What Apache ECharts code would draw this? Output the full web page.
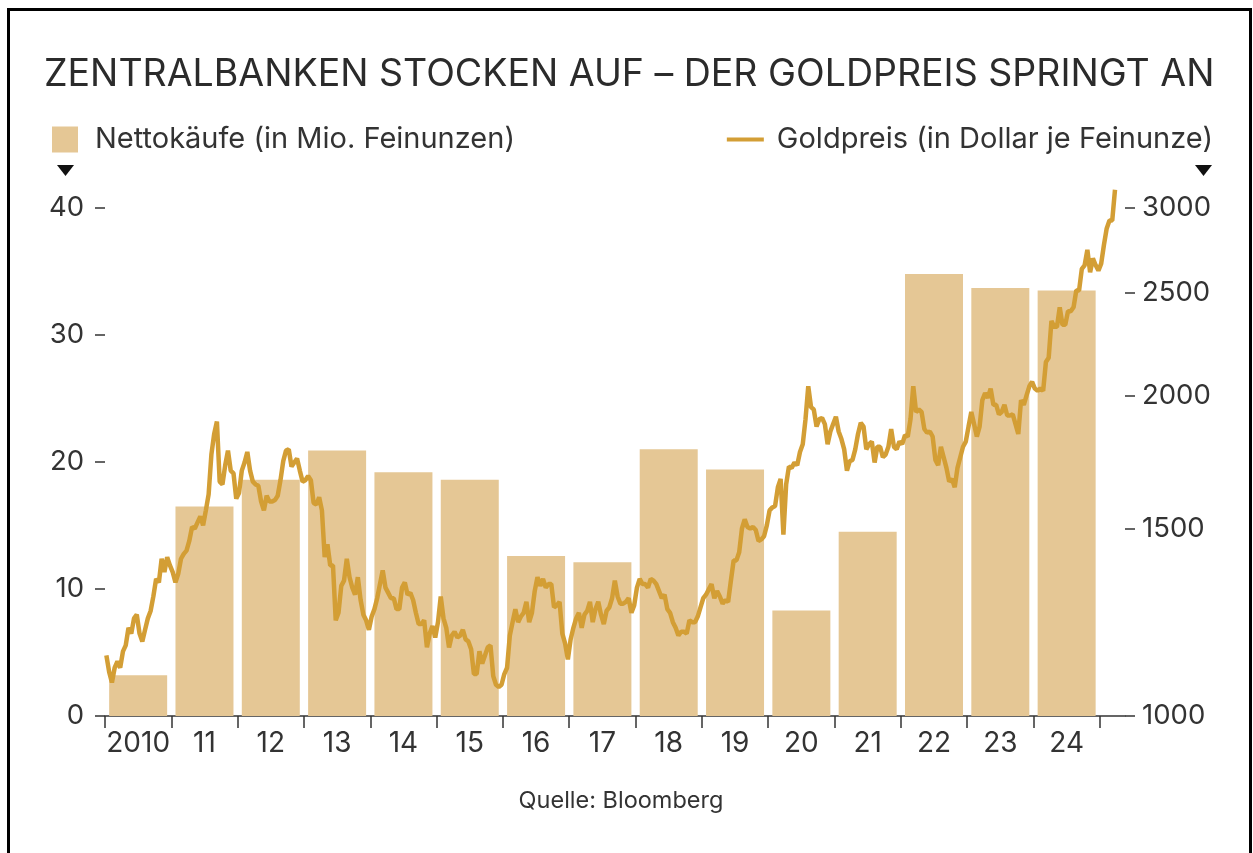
<!DOCTYPE html>
<html>
<head>
<meta charset="utf-8">
<script src="https://cdn.jsdelivr.net/npm/echarts@6/dist/echarts.min.js"></script>
<style>
html,body{margin:0;padding:0;background:#fff;}
#chart{width:1253px;height:853px;}
</style>
</head>
<body>
<div id="chart"></div>
<script>
// ---- data ----
const years = [2010,2011,2012,2013,2014,2015,2016,2017,2018,2019,2020,2021,2022,2023,2024];
const yearLabels = ['2010','11','12','13','14','15','16','17','18','19','20','21','22','23','24'];
const netPurchases = [3.2,16.5,18.6,20.9,19.2,18.6,12.6,12.1,21.0,19.4,8.3,14.5,34.8,33.7,33.5];
const leftTicks = [0,10,20,30,40];
const rightTicks = [1000,1500,2000,2500,3000];
// gold price, two readings per month (first half, second half)
const gold2010 = [1140,1100,1075,1110,1125,1110,1150,1165,1210,1195,1235,1245,1195,1175,1205,1235,1255,1295,1345,1335,1405,1365,1410,1385];
const gold2011 = [1365,1335,1360,1405,1420,1430,1460,1505,1500,1520,1540,1510,1560,1615,1760,1840,1890,1660,1650,1720,1775,1700,1690,1600];
const gold2012 = [1620,1700,1730,1770,1700,1660,1650,1645,1590,1560,1610,1590,1590,1595,1610,1665,1735,1775,1780,1715,1730,1745,1700,1660];
const gold2013 = [1665,1680,1665,1585,1580,1605,1560,1410,1450,1385,1385,1230,1250,1325,1340,1405,1350,1320,1300,1350,1285,1245,1230,1205];
const gold2014 = [1240,1260,1290,1330,1370,1320,1305,1290,1290,1260,1260,1320,1335,1300,1305,1285,1250,1220,1220,1230,1160,1195,1215,1185];
const gold2015 = [1225,1295,1235,1210,1160,1190,1200,1185,1190,1205,1180,1175,1155,1095,1095,1150,1120,1140,1160,1165,1090,1070,1065,1070];
const gold2016 = [1095,1110,1190,1225,1260,1225,1240,1250,1280,1225,1250,1310,1350,1325,1345,1320,1330,1330,1265,1270,1280,1195,1170,1130];
const gold2017 = [1180,1210,1235,1250,1210,1245,1255,1280,1225,1260,1280,1245,1220,1255,1265,1290,1340,1295,1275,1275,1280,1290,1250,1270];
const gold2018 = [1320,1345,1330,1330,1320,1345,1340,1330,1310,1290,1300,1260,1250,1225,1210,1190,1200,1200,1195,1230,1225,1225,1240,1265];
const gold2019 = [1290,1300,1315,1330,1290,1310,1295,1275,1285,1280,1340,1400,1400,1425,1500,1530,1505,1500,1505,1495,1460,1465,1475,1510];
const gold2020 = [1560,1570,1575,1640,1670,1480,1650,1715,1710,1730,1720,1770,1800,1900,2040,1950,1940,1870,1900,1905,1880,1800,1850,1880];
const gold2021 = [1910,1850,1820,1780,1700,1735,1740,1780,1840,1885,1870,1780,1800,1810,1730,1790,1790,1750,1760,1790,1860,1790,1780,1810];
const gold2022 = [1800,1835,1830,1900,2040,1930,1940,1930,1860,1845,1850,1830,1740,1720,1790,1750,1710,1660,1670,1640,1710,1750,1790,1810];
const gold2023 = [1870,1930,1880,1830,1870,1980,2010,1990,2030,1960,1960,1920,1930,1960,1915,1915,1920,1880,1840,1980,1960,2000,2040,2060];
const gold2024 = [2030,2020,2030,2020,2150,2170,2350,2320,2320,2420,2330,2330,2400,2400,2420,2510,2510,2630,2650,2740,2610,2690,2650,2620];
const gold2025 = [2660,2770,2870,2920,2920,3120];

// ---- build ----
const goldByYear = [gold2010,gold2011,gold2012,gold2013,gold2014,gold2015,gold2016,gold2017,gold2018,gold2019,gold2020,gold2021,gold2022,gold2023,gold2024,gold2025];
const goldSeries = [];
goldByYear.forEach((arr, yi) => {
  arr.forEach((v, i) => { goldSeries.push([2010 + yi + (i + 0.5) / 24, v]); });
});
const barData = years.map((y, i) => [y + 0.5, netPurchases[i]]);
const labelPos = years.map(y => y + 0.5);
const yearTicks = years.concat([2025]);

const leftMax = 42.2;
const rightMax = 1000 * Math.pow(3, leftMax / 40);
const FONT = 'Inter, "Open Sans", sans-serif';
const TXT = '#333333';

const chart = echarts.init(document.getElementById('chart'), null, {renderer: 'canvas'});
chart.setOption({
  backgroundColor: '#ffffff',
  animation: false,
  textStyle: {fontFamily: FONT},
  title: {
    text: 'ZENTRALBANKEN STOCKEN AUF – DER GOLDPREIS SPRINGT AN',
    left: 39, top: 50,
    textStyle: {fontFamily: FONT, fontSize: 37.5, fontWeight: 400, color: '#2b2b2b', lineHeight: 40}
  },
  legend: [
    {
      data: ['Nettokäufe (in Mio. Feinunzen)'],
      left: 52, top: 125, padding: 0, icon: 'rect', itemWidth: 26, itemHeight: 26,
      textStyle: {fontFamily: FONT, fontSize: 29, color: TXT, padding: [0, 0, 0, 12], lineHeight: 26}
    },
    {
      data: ['Goldpreis (in Dollar je Feinunze)'],
      right: 40, top: 125, padding: 0, icon: 'rect', itemWidth: 37, itemHeight: 4,
      textStyle: {fontFamily: FONT, fontSize: 29, color: TXT, padding: [0, 0, 0, 8], lineHeight: 26}
    }
  ],
  grid: {left: 105, right: 128, top: 180, bottom: 137, containLabel: false},
  xAxis: {
    type: 'value', min: 2010, max: 2025.38,
    axisLine: {show: true, lineStyle: {color: '#333', width: 1.5}},
    axisTick: {show: true, length: 12, customValues: yearTicks, lineStyle: {color: '#333', width: 1.5}},
    axisLabel: {
      customValues: labelPos, margin: 14, fontFamily: FONT, fontSize: 28, color: TXT,
      formatter: v => yearLabels[years.indexOf(Math.round(v - 0.5))]
    },
    splitLine: {show: false}
  },
  yAxis: [
    {
      type: 'value', min: 0, max: leftMax, position: 'left',
      axisLine: {show: false},
      axisTick: {show: true, length: 10, customValues: leftTicks, lineStyle: {color: '#333', width: 1.5}},
      axisLabel: {customValues: leftTicks, margin: 21, fontFamily: FONT, fontSize: 27.5, color: TXT},
      splitLine: {show: false}
    },
    {
      type: 'log', logBase: 10, min: 1000, max: rightMax, position: 'right',
      axisLine: {show: false},
      axisTick: {show: true, length: 10, customValues: rightTicks, lineStyle: {color: '#333', width: 1.5}},
      axisLabel: {customValues: rightTicks, margin: 17, fontFamily: FONT, fontSize: 27.5, color: TXT, formatter: v => String(v)},
      splitLine: {show: false}
    }
  ],
  series: [
    {
      name: 'Nettokäufe (in Mio. Feinunzen)', type: 'bar',
      xAxisIndex: 0, yAxisIndex: 0, data: barData, barWidth: 58,
      itemStyle: {color: '#e5c795'}
    },
    {
      name: 'Goldpreis (in Dollar je Feinunze)', type: 'line',
      xAxisIndex: 0, yAxisIndex: 1, data: goldSeries, showSymbol: false, symbol: 'none',
      lineStyle: {color: '#d39e35', width: 4.5}, itemStyle: {color: '#d39e35'}, clip: false, z: 3
    }
  ],
  graphic: [
    {type: 'rect', shape: {x: 8.5, y: 9.5, width: 1242, height: 900}, style: {fill: 'none', stroke: '#000', lineWidth: 3}, silent: true},
    {type: 'polygon', shape: {points: [[57, 165], [74, 165], [65.5, 176]]}, style: {fill: '#111'}},
    {type: 'polygon', shape: {points: [[1195, 165], [1212, 165], [1203.5, 176]]}, style: {fill: '#111'}},
    {type: 'text', x: 621, y: 801, style: {text: 'Quelle: Bloomberg', fontFamily: FONT, fontSize: 23.5, fill: TXT, textAlign: 'center', textVerticalAlign: 'middle'}}
  ]
});
</script>
</body>
</html>
